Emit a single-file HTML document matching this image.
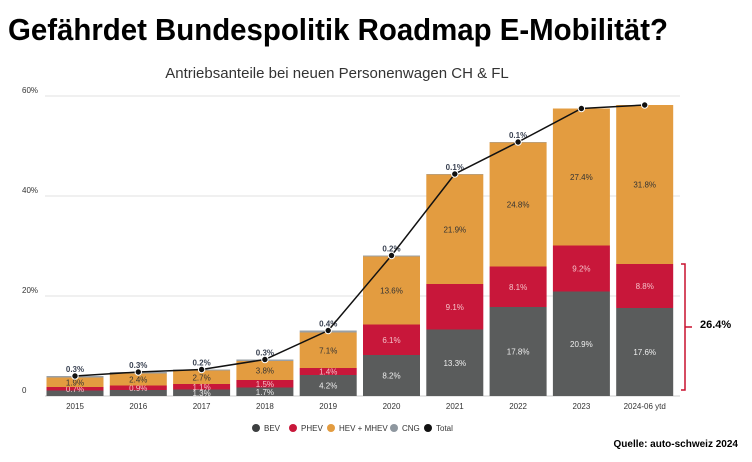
<!DOCTYPE html>
<html><head><meta charset="utf-8"><style>
body{margin:0;background:#fff;width:752px;height:457px;overflow:hidden;font-family:"Liberation Sans",sans-serif}
</style></head><body>
<svg width="752" height="457" xmlns="http://www.w3.org/2000/svg">
<text x="8" y="40" font-size="31" font-weight="bold" fill="#000" textLength="660" lengthAdjust="spacingAndGlyphs">Gefährdet Bundespolitik Roadmap E-Mobilität?</text>
<text x="337" y="78" font-size="15" fill="#333" text-anchor="middle">Antriebsanteile bei neuen Personenwagen CH &amp; FL</text>
<g id="grid"></g><g id="bars"></g><g id="line"></g>
<path d="M681,264 L685,264 L685,390 L681,390 M685,327 L692,327" stroke="#c8102e" stroke-width="1.5" fill="none"/>
<text x="700" y="328" font-size="11" font-weight="bold">26.4%</text>
<g id="legend"></g>
<text x="738" y="447" font-size="10" font-weight="bold" text-anchor="end">Quelle: auto-schweiz 2024</text>
</svg>
<script>
const categories=["2015","2016","2017","2018","2019","2020","2021","2022","2023","2024-06 ytd"];
const bev=[1.1,1.2,1.3,1.7,4.2,8.2,13.3,17.8,20.9,17.6];
const phev=[0.7,0.9,1.1,1.5,1.4,6.1,9.1,8.1,9.2,8.8];
const hev=[1.9,2.4,2.7,3.8,7.1,13.6,21.9,24.8,27.4,31.8];
const cng=[0.3,0.3,0.2,0.3,0.4,0.2,0.1,0.1,0,0];
const total=[4.0,4.8,5.3,7.3,13.1,28.1,44.4,50.8,57.5,58.2];
const yTicks=[0,20,40,60];
const NS="http://www.w3.org/2000/svg";
const y=v=>396-v*5;
const x=i=>75+i*63.3;
const bw=57;
function mk(t,a,p){const e=document.createElementNS(NS,t);for(const k in a)e.setAttribute(k,a[k]);p.appendChild(e);return e;}
const grid=document.getElementById('grid');
yTicks.forEach(t=>{
 const l=mk('line',{x1:45,x2:680,y1:y(t),y2:y(t),stroke:t==0?'#ccc':'#e2e2e2','stroke-width':1},grid);
 
 
 const tx=mk('text',{x:22,y:y(t)-3,'font-size':8,fill:'#333'},grid);tx.textContent=t==0?'0':t+'%';
 
 
});
const bars=document.getElementById('bars');
const series=[[bev,'#5a5c5c','#eee','bev'],[phev,'#c8173a','#f4c0c8','phev'],[hev,'#e39c40','#333','hev'],[cng,'#9aa0a6','#333','cng']];
categories.forEach((c,i)=>{
 let acc=0;
 series.forEach(([arr,col,tc,nm])=>{
  const v=arr[i];if(v<=0)return;
  const r=mk('rect',{x:x(i)-bw/2,y:y(acc+v),width:bw,height:v*5,fill:col},bars);
  
  
  if(nm!=='cng'){
   if(!(nm==='bev'&&i<2)){
   const t=mk('text',{x:x(i),y:y(acc+v/2)+3,'font-size':8,fill:tc,'text-anchor':'middle'},bars);
   t.textContent=v.toFixed(1)+'%';
   
   
   }
  } else if(i<8){
   const t=mk('text',{x:x(i),y:y(acc+v)-4,'font-size':8,'font-weight':'bold',fill:'#3a4252','text-anchor':'middle'},bars);
   t.textContent=v.toFixed(1)+'%';
   
   
  }
  acc+=v;
 });
 const xl=mk('text',{x:x(i),y:409,'font-size':8,fill:'#333','text-anchor':'middle'},bars);
 xl.textContent=c;
 
 
});
const lg=document.getElementById('line');
const p=mk('polyline',{points:total.map((v,i)=>x(i)+','+y(v)).join(' '),fill:'none',stroke:'#111','stroke-width':1.5},lg);


total.forEach((v,i)=>{
 const d=mk('circle',{cx:x(i),cy:y(v),r:3.2,fill:'#111',stroke:'#fff','stroke-width':1},lg);
 
 
});
const legend=document.getElementById('legend');
const items=[['BEV','#3d3f40',256],['PHEV','#c8173a',293],['HEV + MHEV','#e39c40',331],['CNG','#8e979f',394],['Total','#111',428]];
items.forEach(([n,c,lx])=>{
 const ci=mk('circle',{cx:lx,cy:428,r:4,fill:c},legend);
 
 
 const t=mk('text',{x:lx+8,y:431,'font-size':8,fill:'#333'},legend);t.textContent=n;
 
 
});
</script>
</body></html>
